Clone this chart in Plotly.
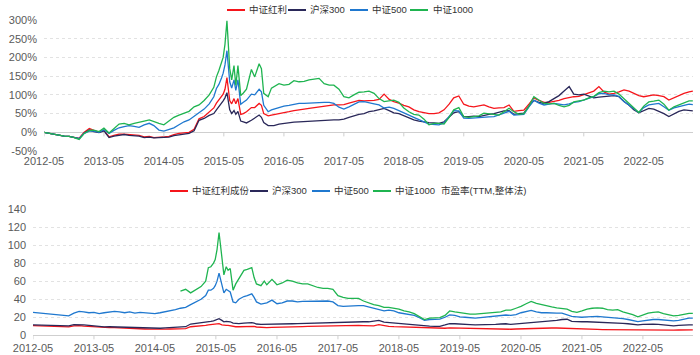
import pandas as pd
import plotly.graph_objects as go

# ---------------- data ----------------
# x dates: monthly 2012-05..2015-02, denser during the 2015 bubble, monthly 2016-03..2023-02, last day
dates_a = [d.strftime("%Y-%m-%d") for d in pd.date_range("2012-05-01", "2015-02-01", freq="MS")]
dates_b = ["2015-03-01", "2015-03-17", "2015-04-01", "2015-04-17", "2015-04-27", "2015-05-08",
           "2015-05-20", "2015-06-06", "2015-06-18", "2015-07-02", "2015-07-13", "2015-07-26",
           "2015-08-12", "2015-08-28", "2015-09-16", "2015-10-16", "2015-11-05", "2015-12-02",
           "2015-12-16", "2015-12-30", "2016-01-26", "2016-02-15"]
dates_c = [d.strftime("%Y-%m-%d") for d in pd.date_range("2016-03-01", "2023-02-01", freq="MS")]
dates = dates_a + dates_b + dates_c + ["2023-02-24"]

tick_dates = ["2012-05-01", "2013-05-01", "2014-05-01", "2015-05-01", "2016-05-01", "2017-05-01",
              "2018-05-01", "2019-05-01", "2020-05-01", "2021-05-01", "2022-05-01"]
tick_labels = ["2012-05", "2013-05", "2014-05", "2015-05", "2016-05", "2017-05",
               "2018-05", "2019-05", "2020-05", "2021-05", "2022-05"]
ret_ticks = [-50, 0, 50, 100, 150, 200, 250, 300]
ret_tick_labels = ["-50%", "0%", "50%", "100%", "150%", "200%", "250%", "300%"]
pe_ticks = [0, 20, 40, 60, 80, 100, 120, 140]

top_names = ["中证红利", "沪深300", "中证500", "中证1000"]
bottom_names = ["中证红利成份", "沪深300", "中证500", "中证1000"]
bottom_title = "市盈率(TTM,整体法)"

# cumulative return (%)
ret_hl = ([0, -3, -6, -9, -10, -11, -14, -16, 0, 10, 5, 0, 5, -12, -8, -5, -5, -6, -7, -8,
           -12, -11, -14, -12, -12, -11, -6, -3, -2, 0, 8, 36, 42, 55]
          + [65, 78, 86, 95, 102, 115, 146, 85, 76, 90, 76, 90, 48, 50, 55, 66, 66, 77, 72, 50, 44, 46]
          + [47, 50, 51, 55, 58, 61, 62, 64, 66, 68,
             70, 73, 73, 73, 74, 78, 82, 85, 84, 84, 85, 88,
             102, 88, 82, 78, 72, 68, 60, 55, 52, 50, 50, 52,
             60, 75, 92, 97, 75, 70, 68, 70, 73, 68, 64, 65,
             66, 73, 56, 58, 59, 75, 92, 85, 80, 80, 82, 85,
             90, 93, 95, 96, 100, 105, 110, 122, 108, 102, 104, 108,
             113, 110, 105, 98, 95, 97, 100, 98, 95, 86, 92, 100,
             104, 108] + [110])
ret_hs300 = ([0, -3, -6, -9, -10, -11, -14, -17, -2, 6, 2, -1, 4, -14, -10, -7, -6, -8, -9, -10,
              -14, -13, -15, -14, -14, -13, -9, -6, -5, -3, 4, 32, 37, 45]
             + [50, 60, 68, 78, 84, 92, 106, 60, 50, 58, 48, 56, 30, 28, 25, 32, 37, 46, 40, 26, 18, 17]
             + [18, 22, 24, 26, 27, 28, 29, 30, 31, 32,
                31, 33, 33, 33, 35, 40, 44, 48, 50, 55, 57, 60,
                64, 58, 52, 50, 45, 40, 33, 30, 27, 26, 25, 24,
                28, 40, 52, 55, 42, 42, 43, 42, 46, 48, 50, 54,
                57, 58, 48, 50, 51, 70, 85, 80, 77, 82, 90, 98,
                110, 122, 102, 100, 102, 96, 92, 94, 96, 97, 98, 95,
                82, 72, 60, 52, 57, 64, 62, 56, 50, 42, 50, 56,
                60, 58] + [57])
ret_zz500 = ([0, -3, -6, -8, -10, -11, -14, -17, -3, 3, 3, 0, 7, -3, 5, 12, 15, 18, 16, 13,
              20, 24, 18, 6, 3, 8, 12, 20, 28, 33, 42, 52, 62, 76]
             + [95, 117, 128, 145, 158, 180, 218, 135, 118, 140, 112, 140, 75, 80, 86, 102, 100, 115, 108, 72, 55, 60]
             + [62, 68, 70, 72, 75, 77, 77, 78, 79, 80,
                80, 80, 77, 67, 62, 68, 75, 81, 82, 80, 76, 73,
                65, 67, 64, 58, 53, 46, 40, 33, 28, 22, 22, 20,
                25, 42, 58, 57, 38, 37, 38, 40, 42, 41, 42, 46,
                52, 56, 46, 46, 48, 68, 86, 78, 73, 75, 77, 75,
                73, 76, 80, 82, 86, 90, 95, 103, 104, 100, 100, 96,
                82, 72, 62, 53, 66, 73, 75, 77, 68, 59, 65, 68,
                72, 75] + [74])
ret_zz1000 = ([0, -3, -6, -9, -10, -11, -14, -19, -3, 5, 6, 2, 11, -2, 10, 22, 24, 20, 24, 26,
               30, 33, 28, 24, 20, 30, 40, 46, 52, 56, 68, 73, 85, 100]
              + [120, 148, 165, 185, 200, 235, 298, 170, 140, 178, 125, 178, 98, 105, 115, 168, 148, 183, 170, 104, 95, 118]
              + [122, 130, 126, 128, 138, 135, 136, 140, 142, 144,
                 130, 126, 126, 115, 95, 92, 100, 107, 108, 110, 104, 90,
                 82, 85, 86, 80, 65, 55, 48, 46, 35, 20, 24, 24,
                 22, 40, 60, 66, 42, 40, 42, 44, 51, 50, 47, 46,
                 55, 64, 55, 48, 50, 70, 95, 85, 77, 76, 77, 72,
                 68, 72, 81, 84, 86, 92, 96, 106, 110, 108, 110, 102,
                 90, 78, 65, 53, 70, 81, 83, 86, 75, 59, 68, 73,
                 80, 84] + [84])

# PE (TTM)
pe_hl = ([10.7, 10.5, 10.2, 9.8, 9.6, 9.5, 9.2, 9.3, 10.5, 10.8, 10.2, 9.8, 9.6, 8.6, 8.6, 8.5,
          8.4, 8.3, 8.2, 8.0, 7.4, 7.3, 7.0, 6.8, 6.6, 6.5, 6.8, 7.0, 7.0, 7.0, 7.5, 9.5, 9.8, 10.5]
         + [11, 11.5, 12, 12, 12.5, 12.8, 13, 11.5, 11, 11, 11, 10.5, 9.8, 9.5, 9.5, 9.8, 10, 10, 9.8, 9.2, 8.6, 8.5]
         + [8.6, 8.8, 8.8, 9.0, 9.1, 9.3, 9.4, 9.6, 9.8, 10.0,
            10.1, 10.3, 10.4, 10.5, 10.6, 10.8, 11.0, 11.2, 11.0, 10.8, 10.6, 10.5,
            11.8, 10.5, 10.0, 9.6, 9.4, 9.0, 8.8, 8.5, 8.2, 7.8, 7.6, 7.4,
            7.4, 7.8, 8.3, 8.1, 8.0, 7.8, 7.8, 7.6, 7.5, 7.4, 7.3, 7.2,
            7.0, 6.8, 6.7, 7.0, 7.2, 7.4, 8.0, 8.1, 8.0, 8.1, 8.1, 8.1,
            7.8, 7.5, 7.2, 7.1, 6.9, 6.8, 6.6, 6.5, 6.4, 6.3, 6.2, 6.1,
            6.0, 5.9, 5.8, 5.7, 5.8, 5.9, 5.9, 5.9, 5.8, 5.7, 5.8, 5.9,
            6.0, 6.0] + [6.0])
pe_hs300 = ([11.5, 11.3, 11.0, 10.7, 10.5, 10.4, 10.2, 10.4, 11.8, 12.0, 11.5, 11.0, 10.5, 9.5, 9.4, 9.5,
             9.3, 9.2, 9.0, 8.8, 8.3, 8.2, 8.0, 7.9, 7.8, 7.8, 8.2, 8.5, 8.5, 8.6, 9.5, 12.5, 13.2, 13.5]
            + [14, 15, 15.5, 16, 17, 17.5, 18.5, 16.5, 15, 15.5, 15.5, 15, 13.5, 13, 13, 13.5, 14, 14, 13.5, 12.5, 12, 12]
            + [12.0, 12.3, 12.3, 12.5, 12.6, 12.8, 13.0, 13.2, 13.5, 13.5,
               13.6, 13.8, 14.0, 14.0, 14.0, 14.3, 14.6, 15.0, 15.0, 15.0, 15.0, 15.5,
               16.5, 14.5, 14.0, 13.8, 13.5, 12.8, 12.3, 11.8, 11.2, 10.5, 10.2, 10.0,
               10.0, 11.5, 13.0, 12.8, 12.2, 12.0, 11.8, 11.5, 11.5, 11.5, 11.5, 12.0,
               12.5, 12.8, 12.0, 12.5, 13.0, 13.5, 14.3, 14.3, 14.5, 15.0, 15.5, 16.5,
               17.5, 17.8, 15.5, 15.0, 15.0, 15.0, 14.8, 14.5, 14.5, 14.5, 14.2, 14.0,
               13.3, 12.8, 12.0, 11.5, 12.0, 12.5, 12.3, 12.0, 11.5, 10.5, 10.5, 11.0,
               11.5, 11.5] + [11.5])
pe_zz500 = ([25.5, 25, 24.5, 24, 23.5, 22.5, 22, 21.5, 24.5, 26.5, 26, 25, 25.5, 24, 25, 25.5,
             26.5, 26, 25, 26, 24.5, 25.5, 25, 24, 24, 25, 26, 27, 28.5, 30, 31, 34, 37, 40]
            + [44, 50, 50, 52, 55, 60, 69, 55, 47, 51, 50, 48, 37, 36, 40, 43, 44, 46, 42, 37, 34.5, 35]
            + [36, 39, 35, 36, 38, 38, 37, 37.5, 37.5, 37.5,
               37.5, 37.5, 38, 37, 33, 32, 32.5, 32.5, 33, 33, 31.5, 30,
               28, 27, 28, 27, 25, 24, 23, 22, 19.5, 16.5, 17.5, 18,
               18, 20, 22.6, 22, 20.5, 20, 19.5, 19, 19.5, 20, 20.5, 21.5,
               21.5, 22.5, 22, 23, 25, 26, 27.5, 26, 25, 25, 24.5, 24.5,
               24.5, 23, 21, 20.5, 20, 20.5, 21, 21, 20.5, 20, 19.8, 19.6,
               18.5, 17.5, 16.5, 15.2, 16, 17, 17.5, 17.5, 16.8, 16.3, 16, 16.5,
               18, 19] + [19])
pe_zz1000 = ([None] * 29 + [49, 51, 47, 51, 54]
             + [60, 75, 76, 80, 84, 95, 114, 85, 67, 76, 72, 74, 50, 57, 63, 72, 73, 75, 64, 57, 55, 60]
             + [56, 62, 56, 58, 61, 60, 58, 57, 57, 55,
                53, 52, 52, 51, 44, 42, 41, 41, 41, 38, 36, 34,
                33, 31, 31, 30, 29, 27, 26, 24, 21, 17.5, 19, 19.5,
                19.5, 22, 27, 26, 25, 24, 23.5, 23.5, 24, 24.5, 25, 26,
                26, 28, 28, 30, 32, 35, 37.5, 35.5, 34, 33, 31.5, 30.5,
                30, 29, 26.5, 25.5, 27, 29, 30, 30.5, 30, 28.5, 28, 28.5,
                26, 24.5, 23, 20.5, 22.5, 24.5, 25.5, 26, 24, 22.5, 21.5, 22,
                23.5, 24.4] + [24.4])

for s in (ret_hl, ret_hs300, ret_zz500, ret_zz1000, pe_hl, pe_hs300, pe_zz500, pe_zz1000):
    assert len(s) == len(dates), (len(s), len(dates))

# ---------------- style ----------------
colors = ["#f5151b", "#2a2859", "#1f78cf", "#1fb450"]
FONT = "Liberation Sans, Arial, Noto Sans CJK SC, sans-serif"
W, H = 700, 355
GRID = "#e2e2e2"
AXIS = "#cfcfcf"
TICKFONT = dict(family=FONT, size=11, color="#5a5a5a")
LEGFONT = dict(family=FONT, size=9.5, color="#333")

fig = go.Figure()
for name, ys, c in zip(top_names, [ret_hl, ret_hs300, ret_zz500, ret_zz1000], colors):
    fig.add_trace(go.Scatter(x=dates, y=ys, name=name, mode="lines",
                             line=dict(color=c, width=1.3), xaxis="x", yaxis="y", showlegend=False))
for name, ys, c in zip(bottom_names, [pe_hl, pe_hs300, pe_zz500, pe_zz1000], colors):
    fig.add_trace(go.Scatter(x=dates, y=ys, name=name, mode="lines", connectgaps=False,
                             line=dict(color=c, width=1.3), xaxis="x2", yaxis="y2", showlegend=False))

x_range = ["2012-05-01", "2023-02-25"]
top_px = (20, 151)      # y pixel of 300% and -50%
bot_px = (209, 335.3)   # y pixel of 140 and 0

fig.update_layout(
    width=W, height=H, margin=dict(l=0, r=0, t=0, b=0),
    paper_bgcolor="white", plot_bgcolor="white",
    font=dict(family=FONT, size=11, color="#333"),
    xaxis=dict(domain=[44 / W, 693 / W], anchor="y", type="date", range=x_range,
               tickvals=tick_dates, ticktext=tick_labels, showgrid=False, showline=False,
               zeroline=False, ticks="", tickfont=TICKFONT, ticklabelstandoff=2, automargin=False),
    yaxis=dict(domain=[1 - top_px[1] / H, 1 - top_px[0] / H], anchor="x", range=[-50, 300],
               tickvals=ret_ticks, ticktext=ret_tick_labels,
               showgrid=True, gridcolor=GRID, griddash="3px,3px", gridwidth=1,
               zeroline=True, zerolinecolor=AXIS, zerolinewidth=1, showline=False,
               ticks="", tickfont=TICKFONT, ticklabelstandoff=6, automargin=False),
    xaxis2=dict(domain=[33 / W, 693 / W], anchor="y2", type="date", range=x_range,
                tickvals=tick_dates, ticktext=tick_labels, showgrid=False, showline=True,
                linecolor=AXIS, linewidth=1, zeroline=False, ticks="",
                tickfont=TICKFONT, ticklabelstandoff=2, automargin=False),
    yaxis2=dict(domain=[1 - bot_px[1] / H, 1 - bot_px[0] / H], anchor="x2", range=[0, 140],
                tickvals=pe_ticks,
                showgrid=True, gridcolor=GRID, griddash="3px,3px", gridwidth=1,
                zeroline=False, showline=False, ticks="", tickfont=TICKFONT,
                ticklabelstandoff=6, automargin=False),
)

shapes = []
# tick marks hanging from the 0% line of the upper chart and from the lower x axis
for d in tick_dates:
    shapes.append(dict(type="line", xref="x", yref="y", x0=d, x1=d, y0=0, y1=-11,
                       line=dict(color=AXIS, width=1)))
    shapes.append(dict(type="line", xref="x2", yref="paper", x0=d, x1=d,
                       y0=1 - bot_px[1] / H, y1=1 - (bot_px[1] + 4) / H,
                       line=dict(color=AXIS, width=1)))

annotations = []
def legend_row(names, line_x, text_x, y_px):
    yp = 1 - y_px / H
    for n, c, lx, tx in zip(names, colors, line_x, text_x):
        shapes.append(dict(type="line", xref="paper", yref="paper", x0=lx / W, x1=(lx + 18) / W,
                           y0=yp, y1=yp, line=dict(color=c, width=2)))
        annotations.append(dict(text=n, xref="paper", yref="paper", x=tx / W, y=yp,
                                xanchor="left", yanchor="middle", showarrow=False, font=LEGFONT))

legend_row(top_names, [227, 288, 350, 410], [247, 308, 370, 431], 10)
legend_row(bottom_names, [170, 250, 312, 373], [190, 270, 332, 393], 191)
annotations.append(dict(text=bottom_title, xref="paper", yref="paper", x=439 / W, y=1 - 191 / H,
                        xanchor="left", yanchor="middle", showarrow=False, font=LEGFONT))

fig.update_layout(shapes=shapes, annotations=annotations)

fig.write_html("out.html", config={"displayModeBar": False},
               post_script="document.body.style.margin='0';")
